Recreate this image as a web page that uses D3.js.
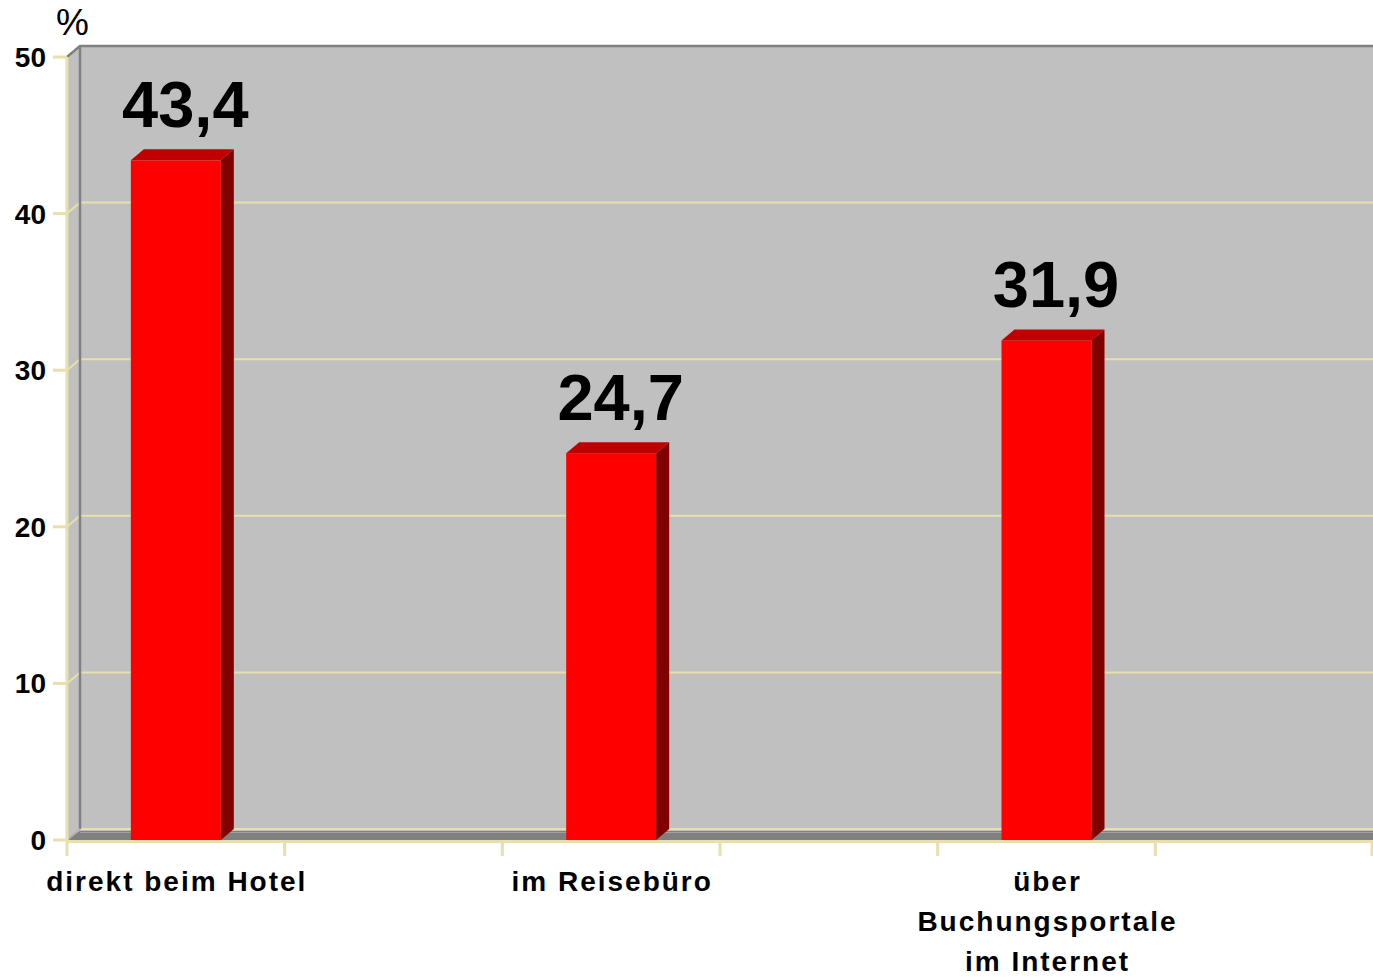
<!DOCTYPE html>
<html>
<head>
<meta charset="utf-8">
<script src="https://cdn.jsdelivr.net/npm/d3@7"></script>
<style>
  body { margin: 0; background: #fff; }
  text { font-family: "Liberation Sans", Arial, sans-serif; }
</style>
</head>
<body>
<div id="chart"></div>
<script>
const categories = ['direkt beim Hotel', 'im Reisebüro', 'über Buchungsportale im Internet']
const labelLines = [['direkt beim Hotel'], ['im Reisebüro'], ['über', 'Buchungsportale', 'im Internet']]
const values = [43.4, 24.7, 31.9]
const valueLabels = ['43,4', '24,7', '31,9']
const yTicks = [0, 10, 20, 30, 40, 50]

const W = 1373, H = 978
const plotLeft = 67, plotRight = 1373, plotBottom = 840, plotTop = 57
const dx = 13, dy = -11   // 3d depth

const svg = d3.select('#chart').append('svg')
  .attr('width', W).attr('height', H)

const x = d3.scaleBand().domain(categories).range([plotLeft, plotRight])
const y = d3.scaleLinear().domain([0, 50]).range([plotBottom, plotTop])
const bw = x.bandwidth()
const barW = 90

const wallCol = '#c0c0c0', edgeCol = '#808080', gridCol = '#e8dfaa'

// walls
svg.append('polygon')
  .attr('points', [[plotLeft + dx, y(50) + dy], [W + 20, y(50) + dy], [W + 20, y(0) + dy], [plotLeft + dx, y(0) + dy]].join(' '))
  .attr('fill', wallCol)
svg.append('polygon')
  .attr('points', [[plotLeft, y(50)], [plotLeft + dx, y(50) + dy], [plotLeft + dx, y(0) + dy], [plotLeft, y(0)]].join(' '))
  .attr('fill', wallCol)

// grid lines on back wall + left wall
svg.append('g').selectAll('path')
  .data(yTicks)
  .enter().append('path')
  .attr('d', d => `M${plotLeft},${y(d)}L${plotLeft + dx},${y(d) + dy}L${W + 20},${y(d) + dy}`)
  .attr('fill', 'none')
  .attr('stroke', gridCol)
  .attr('stroke-width', 2)

// floor
svg.append('polygon')
  .attr('points', [[plotLeft, y(0)], [plotLeft + dx, y(0) + dy + 1.5], [W + 20, y(0) + dy + 1.5], [W + 20, y(0)]].join(' '))
  .attr('fill', edgeCol)
svg.append('line')
  .attr('x1', plotLeft + dx).attr('x2', W + 20)
  .attr('y1', y(0) + dy + 3.5).attr('y2', y(0) + dy + 3.5)
  .attr('stroke', '#a0a0a0').attr('stroke-width', 1)

// wall edges
svg.append('path')
  .attr('d', `M${plotLeft},${y(50)}L${plotLeft + dx},${y(50) + dy}L${W + 20},${y(50) + dy}`)
  .attr('fill', 'none').attr('stroke', edgeCol).attr('stroke-width', 2.5)
svg.append('line')
  .attr('x1', plotLeft + dx).attr('x2', plotLeft + dx)
  .attr('y1', y(50) + dy).attr('y2', y(0) + dy)
  .attr('stroke', edgeCol).attr('stroke-width', 2.5)
svg.append('line')
  .attr('x1', plotLeft).attr('x2', plotLeft + dx)
  .attr('y1', y(0)).attr('y2', y(0) + dy)
  .attr('stroke', '#b0b0b0').attr('stroke-width', 2)

// bars
const bars = svg.append('g').selectAll('g')
  .data(values)
  .enter().append('g')
const bx = (d, i) => x(categories[i]) + bw / 4 - barW / 2

bars.append('rect')
  .attr('x', bx)
  .attr('y', d => y(d))
  .attr('width', barW)
  .attr('height', d => y(0) - y(d))
  .attr('fill', '#ff0000')
bars.append('polygon')
  .attr('points', (d, i) => {
    const x0 = bx(d, i), y0 = y(d)
    return [[x0, y0], [x0 + dx, y0 + dy], [x0 + barW + dx, y0 + dy], [x0 + barW, y0]].join(' ')
  })
  .attr('fill', '#c00000')
bars.append('polygon')
  .attr('points', (d, i) => {
    const x0 = bx(d, i) + barW, y0 = y(d)
    return [[x0, y0], [x0 + dx, y0 + dy], [x0 + dx, y(0) + dy], [x0, y(0)]].join(' ')
  })
  .attr('fill', '#800000')

// value labels
bars.append('text')
  .attr('x', (d, i) => bx(d, i) + barW / 2 + dx / 2 + 3)
  .attr('y', d => y(d) + dy - 22)
  .attr('text-anchor', 'middle')
  .attr('font-size', 65)
  .attr('font-weight', 'bold')
  .text((d, i) => valueLabels[i])

// axes
svg.append('line')
  .attr('x1', plotLeft).attr('x2', plotLeft)
  .attr('y1', y(50)).attr('y2', y(0) + 16)
  .attr('stroke', gridCol).attr('stroke-width', 3)
svg.append('line')
  .attr('x1', plotLeft).attr('x2', plotRight)
  .attr('y1', y(0) + 1.5).attr('y2', y(0) + 1.5)
  .attr('stroke', gridCol).attr('stroke-width', 3)

const yAxis = svg.append('g')
yAxis.selectAll('line')
  .data(yTicks)
  .enter().append('line')
  .attr('x1', plotLeft - 14).attr('x2', plotLeft)
  .attr('y1', d => y(d)).attr('y2', d => y(d))
  .attr('stroke', gridCol).attr('stroke-width', 3)
yAxis.selectAll('text')
  .data(yTicks)
  .enter().append('text')
  .attr('x', 46)
  .attr('y', d => y(d))
  .attr('dy', '0.36em')
  .attr('text-anchor', 'end')
  .attr('font-size', 28)
  .attr('font-weight', 'bold')
  .text(d => d)

svg.append('text')
  .attr('x', 56).attr('y', 35)
  .attr('font-size', 37)
  .text('%')

// x ticks at band edges and band middles
const xTicks = []
categories.forEach(c => { xTicks.push(x(c)); xTicks.push(x(c) + bw / 2) })
xTicks.push(plotRight - 1)
svg.append('g').selectAll('line')
  .data(xTicks.slice(1))
  .enter().append('line')
  .attr('x1', d => d).attr('x2', d => d)
  .attr('y1', y(0)).attr('y2', y(0) + 16)
  .attr('stroke', gridCol).attr('stroke-width', 3)

// category labels
const xl = svg.append('g').selectAll('text')
  .data(categories)
  .enter().append('text')
  .attr('text-anchor', 'middle')
  .attr('font-size', 28)
  .attr('font-weight', 'bold')
  .attr('letter-spacing', 2)
xl.each(function (c, i) {
  d3.select(this).selectAll('tspan')
    .data(labelLines[i])
    .enter().append('tspan')
    .attr('x', x(c) + bw / 4 + 1)
    .attr('y', (l, j) => 891 + j * 40)
    .text(l => l)
})
</script>
</body>
</html>
